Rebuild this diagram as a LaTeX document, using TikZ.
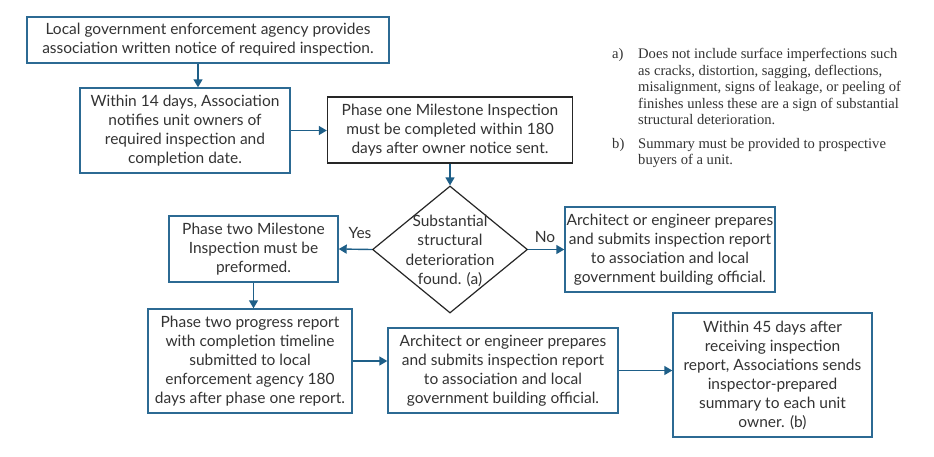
\documentclass[tikz,border=0pt]{standalone}
\usepackage{fontspec}
\newfontfamily\boxfont{Lato}
\newfontfamily\notefont{Liberation Serif}
\usetikzlibrary{arrows.meta,shapes.geometric}
\definecolor{bblue}{HTML}{2C6A93}
\definecolor{ablue}{HTML}{1E5F88}
\definecolor{txt}{HTML}{333333}
\tikzset{
  box/.style={draw=bblue, line width=1.4pt, rectangle, align=center, inner sep=0pt,
    font=\boxfont\fontsize{15.5}{19}\selectfont, text=txt},
  dbox/.style={box, draw=black!85},
  arr/.style={draw=ablue, line width=1.4pt, -{Triangle[length=8pt,width=9pt]}},
  lbl/.style={font=\boxfont\fontsize{15.5}{19}\selectfont, text=txt, inner sep=0pt},
  note/.style={font=\notefont\fontsize{14.6}{16.6}\selectfont, text=txt, inner sep=0pt, align=left, anchor=north west}
}
\begin{document}
\begin{tikzpicture}[x=1pt,y=-1pt]
\useasboundingbox[fill=white] (0,0) rectangle (934,456);
\node[box, minimum width=362pt, minimum height=46pt] (A) at (208,40)
  {Local government enforcement agency provides\\association written notice of required inspection.};
\node[box, minimum width=210pt, minimum height=85pt] (B) at (185,130.5)
  {Within 14 days, Association\\notifies unit owners of\\required inspection and\\completion date.};
\node[dbox, minimum width=245pt, minimum height=66pt] (C) at (450,130)
  {Phase one Milestone Inspection\\must be completed within 180\\days after owner notice sent.};
\node[diamond, draw=black!85, line width=1.2pt, minimum width=155pt, minimum height=127pt, inner sep=0pt] (dia) at (450,249.5) {};
\node[align=center, inner sep=0pt, font=\boxfont\fontsize{15.5}{19.5}\selectfont, text=txt] (diatext) at (450,251)
  {Substantial\\structural\\deterioration\\found. (a)};
\node[box, minimum width=169pt, minimum height=66pt] (D) at (253.5,249)
  {Phase two Milestone\\Inspection must be\\preformed.};
\node[box, minimum width=210pt, minimum height=85pt] (E) at (670,249.5)
  {Architect or engineer prepares\\and submits inspection report\\to association and local\\government building official.};
\node[box, minimum width=204pt, minimum height=104pt] (F) at (250,361)
  {Phase two progress report\\with completion timeline\\submitted to local\\enforcement agency 180\\days after phase one report.};
\node[box, minimum width=230pt, minimum height=85pt] (G) at (503,370.5)
  {Architect or engineer prepares\\and submits inspection report\\to association and local\\government building official.};
\node[box, minimum width=199pt, minimum height=124pt] (H) at (772.5,375)
  {Within 45 days after\\receiving inspection\\report, Associations sends\\inspector-prepared\\summary to each unit\\owner. (b)};
\node[lbl] (yes) at (360,233) {Yes};
\node[lbl] (no) at (545,237) {No};
\draw[arr] ([xshift=-10pt]A.south) -- ([xshift=-10pt]A.south |- B.north);
\draw[arr] (B.east) -- (B.east -| C.west);
\draw[arr] (C.south) -- (dia.north);
\draw[arr] (dia.west) -- (D.east);
\draw[arr] (dia.east) -- (dia.east -| E.west);
\draw[arr] (D.south) -- (D.south |- F.north);
\draw[arr] (F.east) -- (F.east -| G.west);
\draw[arr] (G.east) -- (G.east -| H.west);
\node[note] (la) at (612,48) {a)};
\node[note] (na) at (638,48) {Does not include surface imperfections such\\as cracks, distortion, sagging, deflections,\\misalignment, signs of leakage, or peeling of\\finishes unless these are a sign of substantial\\structural deterioration.};
\node[note] (lb) at (612,138) {b)};
\node[note] (nb) at (638,138) {Summary must be provided to prospective\\buyers of a unit.};
\end{tikzpicture}
\end{document}
